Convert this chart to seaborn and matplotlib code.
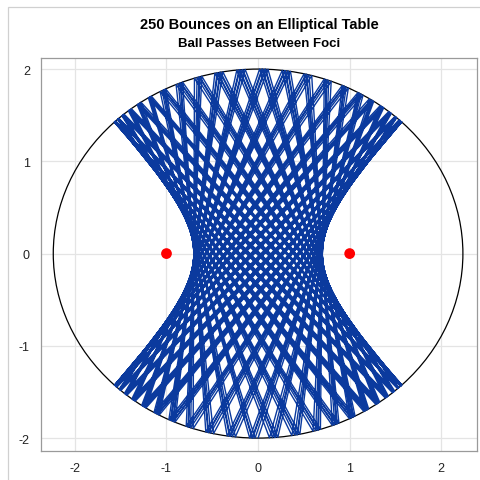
import numpy as np
import pandas as pd
import matplotlib
matplotlib.use("Agg")
import matplotlib.pyplot as plt
from matplotlib.patches import Ellipse, Rectangle
import seaborn as sns

# table: x^2/a^2 + y^2/b^2 = 1, foci at (+-1, 0)
semi_a = np.sqrt(5.0)
semi_b = 2.0
foci_x = [-1.0, 1.0]
foci_y = [0.0, 0.0]

# initial shot: from bottom of the table, crossing the major axis at x_cross
start_pt = (0.0, -2.0)
x_cross = 0.661
n_bounces = 250

title = "250 Bounces on an Elliptical Table"
subtitle = "Ball Passes Between Foci"
ticks_x = [-2, -1, 0, 1, 2]
ticks_y = [-2, -1, 0, 1, 2]


def bounce_path(p0, target, a, b, n):
    """Simula as reflexoes da bola na mesa eliptica."""
    p = np.array(p0, dtype=float)
    d = np.array(target, dtype=float) - p
    d /= np.linalg.norm(d)
    pts = [p.copy()]
    for _ in range(n):
        # intersect p + t d with ellipse
        A = d[0]**2 / a**2 + d[1]**2 / b**2
        B = 2 * (p[0] * d[0] / a**2 + p[1] * d[1] / b**2)
        C = p[0]**2 / a**2 + p[1]**2 / b**2 - 1
        disc = np.sqrt(max(B * B - 4 * A * C, 0))
        t = (-B + disc) / (2 * A)
        p = p + t * d
        # reflect about the normal
        nrm = np.array([p[0] / a**2, p[1] / b**2])
        nrm /= np.linalg.norm(nrm)
        d = d - 2 * np.dot(d, nrm) * nrm
        pts.append(p.copy())
    return np.array(pts)


path = bounce_path(start_pt, (x_cross, 0.0), semi_a, semi_b, n_bounces)
path_df = pd.DataFrame({"x": path[:, 0], "y": path[:, 1]})
foci_df = pd.DataFrame({"x": foci_x, "y": foci_y})

sns.set_style("white")
plt.rcParams["font.family"] = ["Liberation Sans", "DejaVu Sans"]
plt.rcParams["axes.unicode_minus"] = False

fig = plt.figure(figsize=(4.8, 4.81), dpi=100)
ax = fig.add_axes([41 / 480, 1 - 452 / 481, 436 / 480, 393 / 481])

ax.grid(True, color="#e4e4e4", linewidth=0.9, zorder=0)
ax.set_axisbelow(True)

sns.lineplot(data=path_df, x="x", y="y", sort=False, estimator=None,
             color="#0b3a9e", linewidth=1.0, ax=ax, zorder=3)
ax.add_patch(Ellipse((0, 0), 2 * semi_a, 2 * semi_b, fill=False,
                     edgecolor="black", linewidth=0.9, zorder=2))
sns.scatterplot(data=foci_df, x="x", y="y", color="#ff0000", s=60,
                edgecolor="none", ax=ax, zorder=4)

ax.set_xlim(-2.37, 2.39)
ax.set_ylim(-2.14, 2.12)
ax.set_xticks(ticks_x)
ax.set_yticks(ticks_y)
ax.set_xlabel("")
ax.set_ylabel("")
ax.tick_params(axis="both", direction="out", length=5, width=0.8,
               color="#9a9a9a", labelsize=9, labelcolor="#222222", pad=3)
for sp in ax.spines.values():
    sp.set_color("#9a9a9a")
    sp.set_linewidth(0.9)

fig.text(259 / 480, 1 - 25 / 481, title, ha="center", va="center",
         fontsize=10.5, fontweight="bold", color="black")
fig.text(259 / 480, 1 - 44 / 481, subtitle, ha="center", va="center",
         fontsize=9.5, fontweight="bold", color="black")

fig.patches.append(Rectangle((8 / 480, -0.1), 1.2, 1 - 8 / 481 + 0.1,
                             transform=fig.transFigure, fill=False,
                             edgecolor="#d0d0d0", linewidth=0.9))

fig.savefig("out.png", dpi=100)
